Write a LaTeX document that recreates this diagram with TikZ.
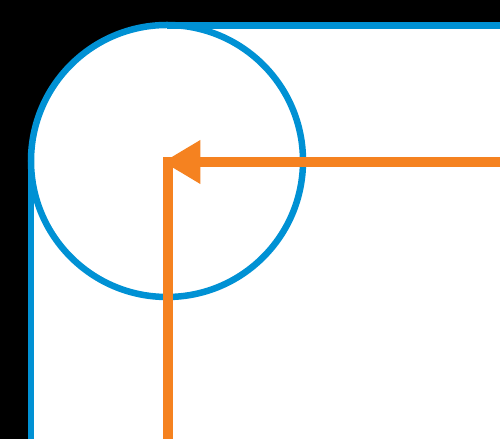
\documentclass[tikz,border=0pt]{standalone}
\usetikzlibrary{arrows.meta}
\definecolor{rimblue}{RGB}{0,145,212}
\definecolor{pathorange}{RGB}{245,130,32}
\tikzset{
	rim/.style={draw=rimblue, line width=3.7pt},
	track/.style={draw=pathorange, line width=5.2pt},
}
\begin{document}
\begin{tikzpicture}[x=0.02cm, y=0.02cm]
		\useasboundingbox (0,0) rectangle (500,439);
		\coordinate (centre) at (167,278);
		\coordinate (tip) at (163,277);
		\coordinate (right) at (500,277);
		\coordinate (foot) at (168,0);
		\coordinate (top) at (168,281.6);
		\fill [black] (0,0) rectangle (500,439);
		\fill [white] (31,0) -- (31,278) arc [start angle=180, end angle=90, radius=136] -- (500,414) -- (500,0) -- cycle;
		\begin{scope} [rim]
		\draw (31,0) -- (31,278);
		\draw (167,413.5) -- (500,413.5);
		\draw (centre) circle [radius=136];
		\end{scope}
		\draw [track] (top) -- (foot);
		\draw [track, -{Triangle[length=0.75cm, width=0.83cm]}] (right) -- (tip);
		
		\end{tikzpicture}
\end{document}
